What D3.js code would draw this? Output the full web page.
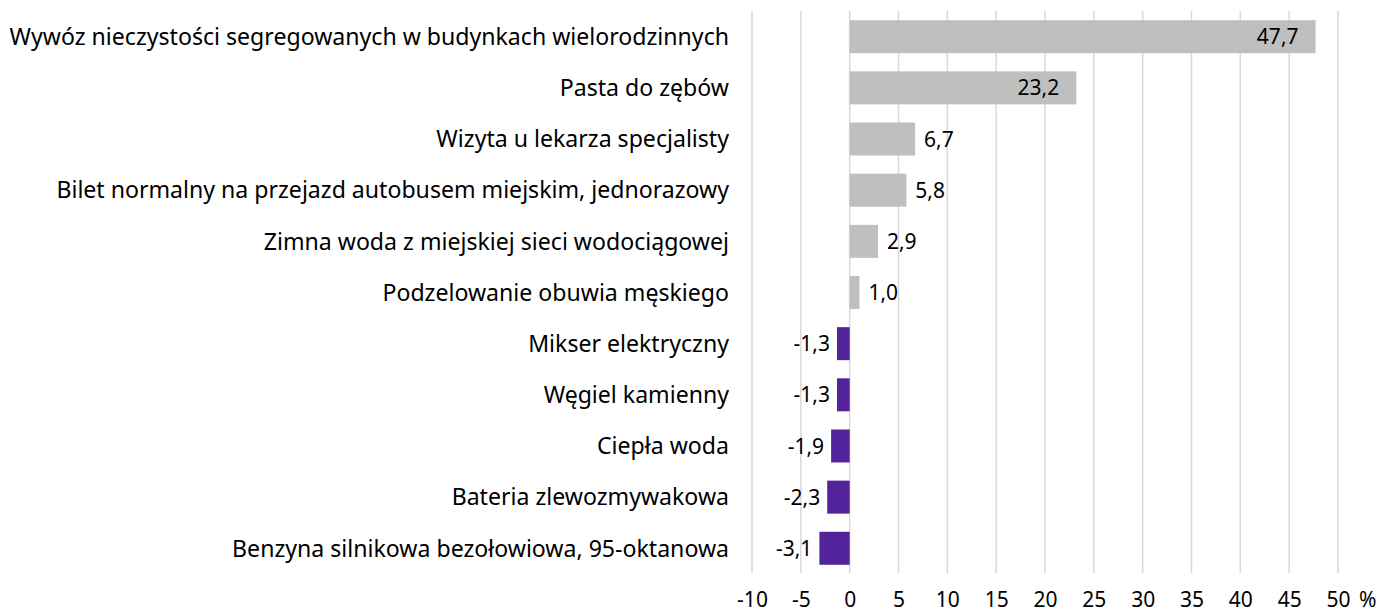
<!DOCTYPE html>
<html>
<head>
<meta charset="utf-8">
<script src="https://cdn.jsdelivr.net/npm/d3@7"></script>
<style>
  body { margin: 0; background: #fff; }
  svg text { font-family: "Noto Sans", "Open Sans", sans-serif; fill: #000; }
  .axis path, .axis line { display: none; }
</style>
</head>
<body>
<div id="chart"></div>
<script>
// categories top to bottom
const categories = [
  "Wywóz nieczystości segregowanych w budynkach wielorodzinnych",
  "Pasta do zębów",
  "Wizyta u lekarza specjalisty",
  "Bilet normalny na przejazd autobusem miejskim, jednorazowy",
  "Zimna woda z miejskiej sieci wodociągowej",
  "Podzelowanie obuwia męskiego",
  "Mikser elektryczny",
  "Węgiel kamienny",
  "Ciepła woda",
  "Bateria zlewozmywakowa",
  "Benzyna silnikowa bezołowiowa, 95-oktanowa"
];
const values = [47.7, 23.2, 6.7, 5.8, 2.9, 1.0, -1.3, -1.3, -1.9, -2.3, -3.1];
const xTicks = [-10, -5, 0, 5, 10, 15, 20, 25, 30, 35, 40, 45, 50];

const width = 1381, height = 613;
const plot = { left: 752, right: 1338, top: 11, bottom: 574 };

const svg = d3.select("#chart").append("svg")
  .attr("width", width)
  .attr("height", height);

const x = d3.scaleLinear()
  .domain([-10, 50])
  .range([plot.left, plot.right]);

const y = d3.scaleBand()
  .domain(categories)
  .range([plot.top, plot.bottom])
  .paddingInner(0.355)
  .paddingOuter(0.18);

// gridlines
svg.append("g")
  .selectAll("line")
  .data(xTicks)
  .enter()
  .append("line")
    .attr("x1", d => x(d))
    .attr("x2", d => x(d))
    .attr("y1", plot.top)
    .attr("y2", plot.bottom - 1)
    .style("stroke", "#d9d9d9")
    .style("stroke-width", 1.5);

// bars
svg.append("g")
  .selectAll("rect")
  .data(values)
  .enter()
  .append("rect")
    .attr("x", d => x(Math.min(0, d)))
    .attr("width", d => Math.abs(x(d) - x(0)))
    .attr("y", (d, i) => y(categories[i]))
    .attr("height", y.bandwidth())
    .style("fill", d => d < 0 ? "#52239a" : "#bfbfbf");

// value labels
const fmt = v => d3.format(".1f")(v).replace(".", ",").replace("−", "-");
svg.append("g")
  .selectAll("text")
  .data(values)
  .enter()
  .append("text")
    .text(d => fmt(d))
    .attr("y", (d, i) => y(categories[i]) + y.bandwidth() / 2)
    .attr("dy", "0.36em")
    .style("font-size", "21px")
    .attr("x", d => {
      if (d > 20) return x(d) - 17;
      if (d >= 0) return x(d) + 9;
      return x(d) - 7;
    })
    .attr("text-anchor", d => (d > 20 || d < 0) ? "end" : "start");

// category labels
svg.append("g")
  .selectAll("text")
  .data(categories)
  .enter()
  .append("text")
    .text(d => d)
    .attr("x", 729)
    .attr("y", d => y(d) + y.bandwidth() / 2)
    .attr("dy", "0.36em")
    .attr("text-anchor", "end")
    .style("font-size", "23.1px");

// x axis
const xAxis = d3.axisBottom(x).tickValues(xTicks).tickFormat(d => String(d)).tickSize(0).tickPadding(0);
const gx = svg.append("g")
  .classed("axis", true)
  .attr("transform", `translate(0, 607)`)
  .call(xAxis);
gx.selectAll("text")
  .attr("dy", null)
  .style("font-size", "21px")
  .style("font-family", "\"Noto Sans\", sans-serif");

svg.append("text")
  .text("%")
  .attr("x", 1359)
  .attr("y", 607)
  .style("font-size", "21px");
</script>
</body>
</html>
